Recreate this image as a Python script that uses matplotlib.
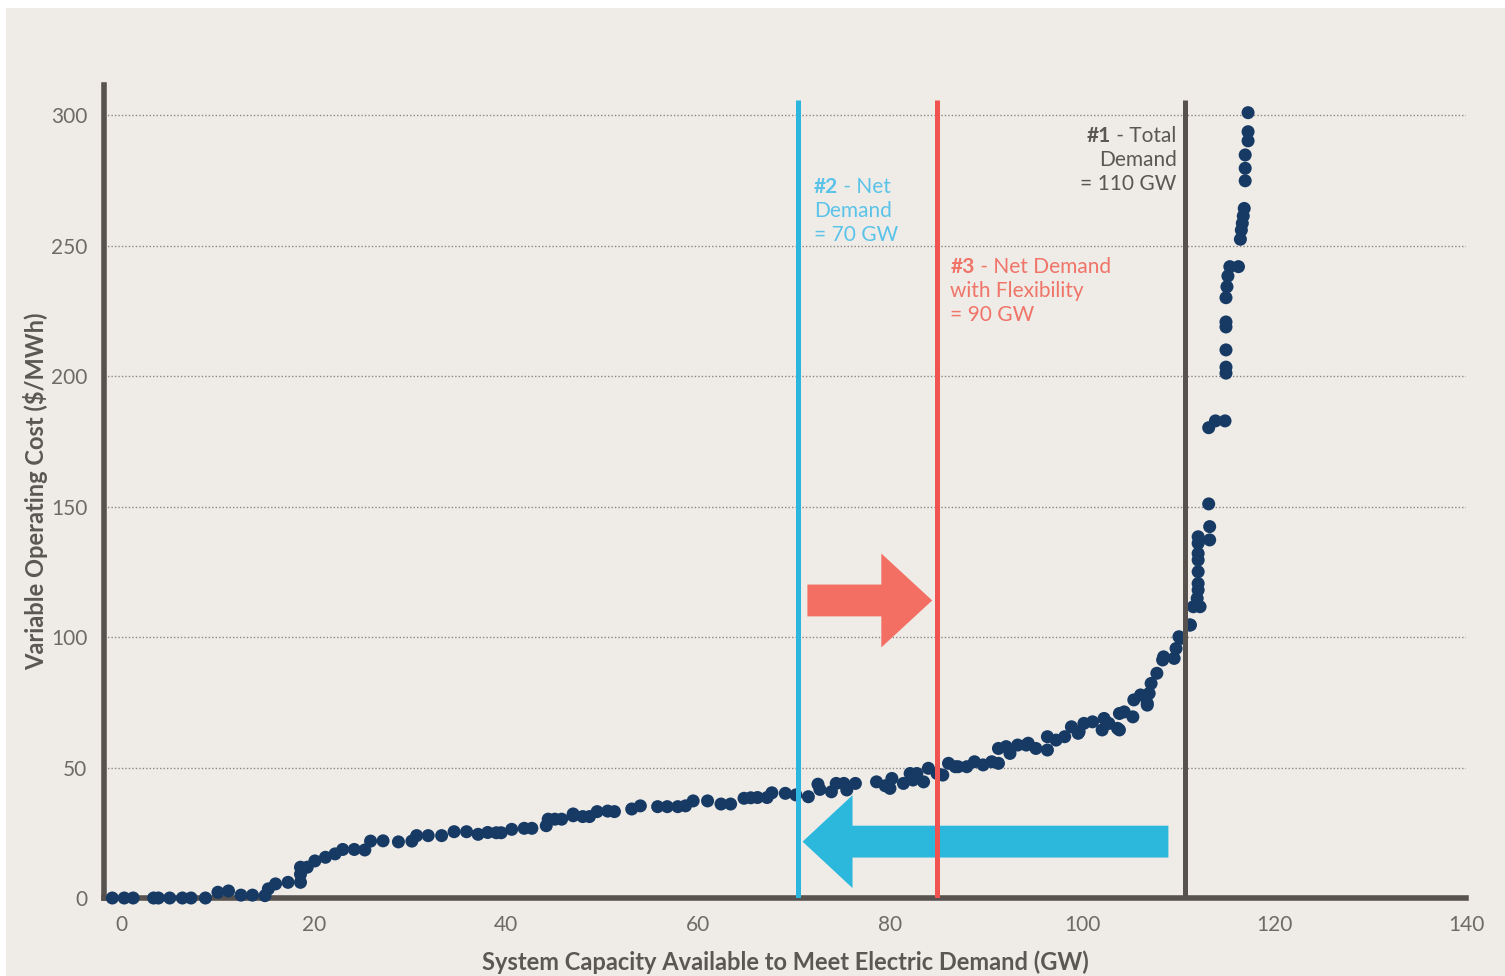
import matplotlib
matplotlib.use("Agg")
import matplotlib.pyplot as plt
from matplotlib.patches import Polygon, Rectangle
from matplotlib.transforms import offset_copy

# supply curve points
capacity_gw = [
    -1.0, 0.24, 1.17, 3.3, 3.8, 4.98, 6.3, 7.2, 8.7, 10.0, 11.1, 12.4, 13.6, 14.9,
    15.25, 16.0, 17.3, 18.6, 18.6, 18.6, 19.3, 20.1, 21.2, 22.2, 23.0, 24.2, 25.3,
    25.9, 27.2, 28.8, 30.2, 30.7, 31.9, 33.3, 34.6, 35.9, 37.1, 38.1, 39.0, 39.5,
    40.6, 41.9, 42.7, 44.2, 44.4, 45.1, 45.8, 47.0, 47.0, 48.0, 48.7, 49.5, 50.6,
    51.3, 53.1, 54.0, 55.8, 56.8, 57.9, 58.7, 59.5, 61.0, 62.4, 63.4, 64.8, 65.5,
    66.2, 67.2, 67.7, 69.1, 70.2, 71.5, 72.5, 72.7, 73.9, 74.4, 75.2, 75.5, 76.4,
    78.6, 79.5, 80.0, 80.2, 81.4, 82.1, 82.4, 82.8, 83.5, 84.0, 84.9, 85.5, 86.1,
    86.8, 87.1, 88.0, 88.8, 89.7, 90.6, 91.3, 91.3, 92.1, 92.5, 93.3, 94.2, 94.4,
    95.2, 96.4, 96.4, 97.3, 98.2, 98.9, 99.6, 99.7, 100.2, 101.1, 102.1, 102.3,
    102.8, 103.7, 103.9, 103.9, 104.4, 105.3, 105.4, 106.1, 106.8, 106.8, 107.0,
    107.2, 107.8, 108.4, 108.5, 109.6, 109.8, 110.1, 110.3, 111.2, 111.3, 111.6,
    112.0, 112.3, 112.1, 112.1, 112.1, 112.1, 112.1, 112.1, 112.1, 113.3, 113.3,
    113.2, 113.2, 113.9, 114.9, 115.0, 115.0, 115.0, 115.0, 115.0, 115.0, 115.1,
    115.2, 115.4, 116.3, 116.5, 116.6, 116.7, 116.8, 116.9, 117.0, 117.0, 117.0,
    117.3, 117.3, 117.3,
]
cost_usd = [
    0, 0, 0, 0, 0, 0, 0, 0, 0, 2.2, 2.7, 1.1, 1.1, 0.9,
    3.5, 5.4, 6.0, 6.0, 9.1, 11.8, 11.8, 14.2, 15.6, 16.9, 18.6, 18.6, 18.4,
    21.8, 21.9, 21.5, 21.8, 23.9, 23.9, 23.9, 25.4, 25.4, 24.4, 25.1, 25.0, 25.0,
    26.3, 26.7, 26.7, 27.7, 30.2, 30.2, 30.2, 31.5, 32.2, 31.2, 31.2, 33.1, 33.3,
    33.1, 34.1, 35.3, 35.0, 35.0, 35.0, 35.3, 37.2, 37.2, 36.0, 36.0, 38.2, 38.4,
    38.5, 38.5, 40.3, 40.1, 39.5, 38.8, 43.6, 41.6, 40.7, 43.9, 43.9, 41.4, 43.9,
    44.5, 43.0, 42.0, 45.8, 43.9, 47.7, 45.2, 47.7, 44.5, 49.7, 47.7, 47.1, 51.6,
    50.3, 50.3, 50.3, 52.2, 51.0, 52.2, 51.6, 57.3, 58.0, 55.4, 58.6, 58.6, 59.3,
    57.3, 56.7, 61.8, 60.5, 61.8, 65.6, 63.1, 63.7, 66.9, 67.5, 64.4, 68.8,
    66.9, 65.0, 70.7, 64.4, 71.3, 69.4, 75.9, 77.8, 74.6, 73.9, 78.4,
    82.2, 86.1, 91.2, 92.4, 91.8, 95.6, 100.1, 99.5, 104.6, 104.6, 111.6,
    114.8, 111.6, 118.0, 120.5, 125.0, 129.5, 132.0, 135.9, 138.4, 137.2, 142.3,
    151.0, 180.2, 182.8, 182.8, 201.1, 203.4, 210.0, 218.8, 220.7, 230.0, 234.2,
    238.3, 241.9, 241.9, 252.4, 255.9, 258.5, 261.3, 264.2, 274.8, 279.6, 284.7,
    290.1, 293.6, 300.9,
]

x_ticks = [0, 20, 40, 60, 80, 100, 120, 140]
y_ticks = [0, 50, 100, 150, 200, 250, 300]

# demand markers (x position of the vertical lines)
total_demand_x = 110.7
net_demand_x = 70.4
flex_demand_x = 84.9

BG = "#efece8"
NAVY = "#173a64"
AXIS = "#57514f"
TICK = "#6d6a68"
BLUE = "#2cb5de"
RED = "#f05350"
BLUE_TXT = "#5cc3e8"
RED_TXT = "#f07468"
RED_ARROW = "#f36f63"
BLUE_ARROW = "#2bb8dc"

plt.rcParams["font.family"] = ["Lato", "DejaVu Sans"]

fig = plt.figure(figsize=(15.05, 9.76), dpi=100, facecolor="white")
fig.patches.append(Rectangle((6 / 1505, 0), 1, 968 / 976, transform=fig.transFigure,
                             facecolor=BG, edgecolor="none", zorder=-10))
ax = fig.add_axes([104 / 1505, 78 / 976, 1362 / 1505, 813 / 976])
ax.set_facecolor(BG)

ax.set_xlim(-1.867, 139.42)
ax.set_ylim(0, 311.5)

for s in ["top", "right"]:
    ax.spines[s].set_visible(False)
for s in ["left", "bottom"]:
    ax.spines[s].set_color(AXIS)
    ax.spines[s].set_linewidth(4)
    ax.spines[s].set_zorder(3)

ax.set_xticks(x_ticks)
ax.set_yticks(y_ticks)
ax.tick_params(length=0, labelsize=15, labelcolor=TICK)
ax.tick_params(axis="y", pad=12)
ax.tick_params(axis="x", pad=12)

for v in y_ticks[1:]:
    ax.axhline(v, color="#8a8684", linestyle=(0, (1, 1.5)), linewidth=1, zorder=1)

ax.set_xlabel("System Capacity Available to Meet Electric Demand (GW)",
              fontsize=17, fontweight="bold", color="#5b5755", labelpad=11)
ax.set_ylabel("Variable Operating Cost ($/MWh)",
              fontsize=17, fontweight="bold", color="#5b5755", labelpad=2)

ax.scatter(capacity_gw, cost_usd, s=88, color=NAVY, edgecolors="none",
           zorder=4, clip_on=False)


def arrow(x_tail, x_tip, y_mid, shaft, head, head_len, color):
    d = 1 if x_tip > x_tail else -1
    x_base = x_tip - d * head_len
    pts = [(x_tail, y_mid - shaft), (x_base, y_mid - shaft), (x_base, y_mid - head),
           (x_tip, y_mid), (x_base, y_mid + head), (x_base, y_mid + shaft),
           (x_tail, y_mid + shaft)]
    ax.add_patch(Polygon(pts, closed=True, facecolor=color, edgecolor="none", zorder=5))


arrow(71.4, 84.4, 114.0, 6.1, 18.0, 5.3, RED_ARROW)
arrow(109.0, 70.9, 21.6, 6.1, 17.8, 5.2, BLUE_ARROW)

ax.vlines(net_demand_x, 0, 305.7, color=BLUE, linewidth=3.6, zorder=6)
ax.vlines(flex_demand_x, 0, 305.7, color=RED, linewidth=3.6, zorder=6)
ax.vlines(total_demand_x, 0, 305.7, color=AXIS, linewidth=3.6, zorder=6)

renderer = fig.canvas.get_renderer()
FS = 15


def label(x, ys, bold, rest, lines, color, ha="left"):
    if ha == "left":
        t = ax.text(x, ys[0], bold, fontsize=FS, fontweight="bold", color=color,
                    ha="left", va="center", zorder=7)
        w = t.get_window_extent(renderer).width
        ax.text(x, ys[0], rest, fontsize=FS, color=color, ha="left", va="center",
                transform=offset_copy(ax.transData, fig=fig, x=w, y=0, units="dots"), zorder=7)
    else:
        t = ax.text(x, ys[0], rest, fontsize=FS, color=color, ha="right", va="center", zorder=7)
        w = t.get_window_extent(renderer).width
        ax.text(x, ys[0], bold, fontsize=FS, fontweight="bold", color=color,
                ha="right", va="center",
                transform=offset_copy(ax.transData, fig=fig, x=-w, y=0, units="dots"), zorder=7)
    for yy, line in zip(ys[1:], lines):
        ax.text(x, yy, line, fontsize=FS, color=color, ha=ha, va="center", zorder=7)


label(72.1, [272.4, 263.2, 254.0], "#2", " - Net", ["Demand", "= 70 GW"], BLUE_TXT)
label(86.3, [241.7, 232.5, 223.3], "#3", " - Net Demand",
      ["with Flexibility", "= 90 GW"], RED_TXT)
label(109.85, [291.9, 282.7, 273.5], "#1", " - Total", ["Demand", "= 110 GW"],
      "#5b5755", ha="right")

fig.savefig("out.png", dpi=100, facecolor=fig.get_facecolor())
